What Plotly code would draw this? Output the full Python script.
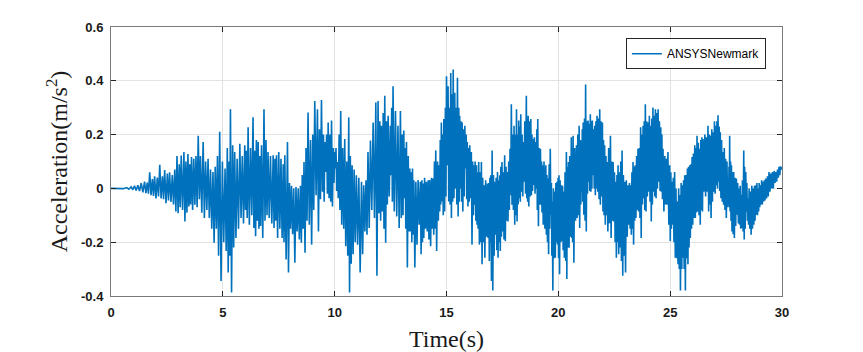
import plotly.graph_objects as go

# ---- data: event times, local peak values and the following trough values ----
t_events = [0.0, 0.4, 0.7, 0.9, 1.05, 1.2, 1.35, 1.5, 1.62, 1.73, 1.85, 1.95, 2.07, 2.18, 2.3, 2.4, 2.52, 2.62, 2.74, 2.85, 2.95, 3.05, 3.14, 3.26, 3.35, 3.44, 3.52, 3.6,
    3.7, 3.8, 3.9, 4.0, 4.12, 4.23, 4.34, 4.45, 4.56, 4.66, 4.76, 4.86, 4.98, 5.1, 5.2, 5.28, 5.34, 5.44, 5.53, 5.64, 5.76, 5.87, 5.98, 6.05, 6.13, 6.24, 6.35, 6.43, 6.5, 6.58, 6.65, 6.73, 6.84, 6.93, 7.02, 7.13, 7.25, 7.33, 7.4,
    7.5, 7.6, 7.7, 7.77, 7.89, 7.98, 8.07, 8.17, 8.27, 8.37, 8.47, 8.55, 8.63, 8.72, 8.81, 8.92, 9.02, 9.11, 9.23, 9.32, 9.41, 9.5, 9.56, 9.64, 9.71, 9.79, 9.86, 9.94, 10.0, 10.06, 10.12, 10.2, 10.27, 10.36, 10.45, 10.54, 10.63, 10.7, 10.78, 10.87, 10.97, 11.08, 11.2,
    11.3, 11.4, 11.49, 11.6, 11.72, 11.84, 11.94, 12.02, 12.09, 12.17, 12.24, 12.32, 12.39, 12.49, 12.55, 12.61, 12.72, 12.83, 12.94, 13.02, 13.09, 13.15, 13.21, 13.29, 13.36, 13.42, 13.48, 13.54, 13.63, 13.73, 13.83, 13.9, 13.95, 14.02, 14.1, 14.18, 14.25, 14.33, 14.4, 14.46, 14.52, 14.6, 14.67, 14.72, 14.77, 14.83, 14.88, 14.95, 15.0,
    15.07, 15.13, 15.19, 15.25, 15.3, 15.37, 15.43, 15.49, 15.55, 15.59, 15.65, 15.7, 15.76, 15.82, 15.88, 15.93, 15.99, 16.04, 16.11, 16.17, 16.23, 16.28, 16.34, 16.39, 16.44, 16.5, 16.56, 16.62, 16.68, 16.75, 16.83, 16.89, 16.94, 16.98, 17.04, 17.1, 17.16, 17.22, 17.28, 17.33, 17.38, 17.43, 17.48, 17.54, 17.6, 17.66, 17.72, 17.78, 17.84, 17.9, 17.96, 18.02, 18.08, 18.13, 18.18, 18.23, 18.28, 18.32, 18.38, 18.44, 18.5, 18.57, 18.61, 18.65, 18.71, 18.77, 18.82,
    18.87, 18.93, 18.99, 19.04, 19.08, 19.14, 19.2, 19.25, 19.29, 19.36, 19.44, 19.49, 19.54, 19.59, 19.64, 19.69, 19.73, 19.78, 19.84, 19.89, 19.94, 19.99, 20.03, 20.08, 20.14, 20.19, 20.24, 20.3, 20.36, 20.4, 20.45, 20.51, 20.58, 20.62, 20.66, 20.73, 20.81, 20.87, 20.93, 20.98, 21.03, 21.07, 21.11, 21.17, 21.22, 21.28, 21.33, 21.38, 21.43, 21.48, 21.52, 21.58, 21.63, 21.68, 21.73, 21.79, 21.85, 21.91, 21.97, 22.02, 22.07, 22.13, 22.18, 22.25, 22.33, 22.39, 22.45, 22.51, 22.57, 22.62,
    22.67, 22.73, 22.79, 22.85, 22.91, 22.97, 23.04, 23.12, 23.18, 23.24, 23.29, 23.34, 23.39, 23.44, 23.5, 23.56, 23.62, 23.68, 23.73, 23.79, 23.84, 23.89, 23.95, 24.01, 24.07, 24.13, 24.18, 24.23, 24.29, 24.34, 24.4, 24.46, 24.52, 24.58, 24.63, 24.68, 24.76, 24.83, 24.9, 24.98, 25.03, 25.08, 25.14, 25.2, 25.26, 25.32, 25.38, 25.43, 25.49, 25.55, 25.6, 25.65, 25.71, 25.77, 25.82, 25.87, 25.93, 25.98, 26.04, 26.1, 26.15, 26.2, 26.26, 26.32, 26.37, 26.42,
    26.47, 26.55, 26.62, 26.69, 26.75, 26.8, 26.86, 26.92, 26.98, 27.04, 27.09, 27.14, 27.19, 27.24, 27.3, 27.36, 27.42, 27.48, 27.54, 27.59, 27.63, 27.66, 27.7, 27.74, 27.79, 27.84, 27.9, 27.96, 28.02, 28.08, 28.13, 28.18, 28.23, 28.29, 28.33, 28.38, 28.43, 28.48, 28.53, 28.59, 28.65, 28.71, 28.77, 28.82, 28.88, 28.93, 28.98, 29.03, 29.09, 29.15, 29.21, 29.27, 29.35, 29.42, 29.5, 29.57, 29.65, 29.72, 29.8, 29.87, 29.93, 30.0]

peak_vals = [0.0, 0.001, 0.003, 0.006, 0.010, 0.012, 0.020, 0.025, 0.022, 0.060, 0.035, 0.045, 0.040, 0.088, 0.045, 0.068, 0.055, 0.060, 0.050, 0.070, 0.120, 0.090, 0.122, 0.135, 0.100, 0.128, 0.090, 0.117,
    0.110, 0.120, 0.196, 0.120, 0.172, 0.100, 0.110, 0.070, 0.061, 0.080, 0.120, 0.211, 0.100, 0.074, 0.150, 0.100, 0.294, 0.160, 0.135, 0.110, 0.166, 0.120, 0.160, 0.140, 0.227, 0.150, 0.264, 0.140, 0.180, 0.172, 0.120, 0.160, 0.294, 0.180, 0.135, 0.120, 0.123, 0.110, 0.123,
    0.135, 0.110, 0.090, 0.123, 0.172, 0.020, 0.010, 0.000, 0.005, 0.000, 0.010, 0.050, 0.098, 0.150, 0.282, 0.180, 0.200, 0.325, 0.294, 0.220, 0.329, 0.200, 0.172, 0.200, 0.245, 0.200, 0.252, 0.150, 0.135, 0.150, 0.098, 0.200, 0.288, 0.150, 0.184, 0.100, 0.264, 0.120, 0.086, 0.070, 0.049, 0.040, 0.025,
    0.012, 0.030, 0.135, 0.178, 0.245, 0.319, 0.325, 0.250, 0.233, 0.280, 0.344, 0.250, 0.270, 0.233, 0.300, 0.380, 0.288, 0.233, 0.288, 0.200, 0.215, 0.150, 0.172, 0.120, 0.074, 0.060, 0.074, 0.030, 0.025, 0.031, 0.025, 0.030, 0.018, 0.040, 0.025, 0.030, 0.031, 0.040, 0.037, 0.100, 0.141, 0.100, 0.086, 0.180, 0.245, 0.200, 0.258, 0.300, 0.417,
    0.380, 0.300, 0.429, 0.350, 0.442, 0.356, 0.300, 0.411, 0.300, 0.270, 0.250, 0.245, 0.220, 0.233, 0.200, 0.172, 0.150, 0.160, 0.135, 0.100, 0.086, 0.100, 0.086, 0.060, 0.098, 0.060, 0.098, 0.040, 0.012, 0.030, 0.018, 0.020, 0.040, 0.049, 0.141, 0.050, 0.025, 0.040, 0.061, 0.030, 0.049, 0.080, 0.098, 0.060, 0.123, 0.080, 0.061, 0.100, 0.147, 0.313, 0.200, 0.233, 0.200, 0.294, 0.200, 0.252, 0.230, 0.276, 0.200, 0.172, 0.250, 0.344, 0.260, 0.270, 0.250, 0.258, 0.200,
    0.184, 0.190, 0.172, 0.220, 0.258, 0.150, 0.147, 0.100, 0.086, 0.100, 0.086, 0.050, 0.037, 0.090, 0.147, 0.020, -0.049, 0.000, -0.012, 0.020, 0.025, 0.040, 0.049, 0.030, 0.012, 0.010, -0.012, 0.060, 0.135, 0.080, 0.098, 0.120, 0.190, 0.150, 0.196, 0.150, 0.160, 0.200, 0.233, 0.180, 0.178, 0.220, 0.245, 0.260, 0.386, 0.250, 0.252, 0.240, 0.276, 0.250, 0.252, 0.220, 0.233, 0.250, 0.270, 0.260, 0.294, 0.250, 0.245, 0.180, 0.160, 0.120, 0.098, 0.150, 0.196, 0.100, 0.098, 0.060, 0.025, 0.050,
    0.086, 0.060, 0.100, 0.141, 0.050, 0.025, 0.030, 0.012, 0.020, 0.012, 0.060, 0.098, 0.080, 0.086, 0.120, 0.147, 0.150, 0.227, 0.200, 0.233, 0.250, 0.313, 0.250, 0.245, 0.270, 0.233, 0.260, 0.301, 0.270, 0.294, 0.280, 0.294, 0.250, 0.227, 0.200, 0.147, 0.120, 0.110, 0.135, 0.086, 0.060, 0.025, 0.040, 0.061, 0.000, -0.049, 0.000, -0.025, 0.020, 0.012, 0.030, 0.049, 0.050, 0.074, 0.080, 0.086, 0.090, 0.117, 0.130, 0.160, 0.150, 0.196, 0.170, 0.147, 0.180, 0.190,
    0.184, 0.200, 0.190, 0.233, 0.200, 0.196, 0.220, 0.209, 0.250, 0.233, 0.250, 0.272, 0.230, 0.209, 0.180, 0.135, 0.150, 0.110, 0.100, 0.037, 0.080, 0.196, 0.100, 0.086, 0.060, 0.061, 0.040, 0.037, 0.020, 0.000, 0.010, -0.025, 0.030, 0.141, 0.080, 0.061, 0.020, -0.037, 0.000, -0.012, 0.010, 0.000, 0.010, 0.012, 0.020, 0.000, 0.020, 0.012, 0.030, 0.025, 0.030, 0.037, 0.045, 0.061, 0.055, 0.061, 0.065, 0.061, 0.070, 0.080, 0.082, 0.080]

trough_vals = [0.0, -0.001, -0.003, -0.005, -0.008, -0.010, -0.015, -0.018, -0.020, -0.025, -0.028, -0.037, -0.030, -0.037, -0.040, -0.055, -0.045, -0.050, -0.060, -0.086, -0.092, -0.070, -0.080, -0.123, -0.090, -0.067, -0.060, -0.080,
    -0.061, -0.070, -0.040, -0.090, -0.110, -0.080, -0.110, -0.150, -0.202, -0.150, -0.250, -0.344, -0.200, -0.233, -0.313, -0.250, -0.387, -0.220, -0.184, -0.150, -0.110, -0.130, -0.080, -0.110, -0.135, -0.100, -0.147, -0.178, -0.120, -0.150, -0.140, -0.184, -0.120, -0.100, -0.110, -0.130, -0.147, -0.120, -0.184,
    -0.150, -0.184, -0.200, -0.264, -0.313, -0.150, -0.170, -0.276, -0.160, -0.190, -0.202, -0.150, -0.239, -0.120, -0.135, -0.209, -0.080, -0.025, -0.160, -0.040, -0.012, -0.050, 0.061, -0.020, -0.037, -0.050, -0.067, 0.020, 0.074, -0.010, -0.037, -0.080, -0.135, -0.150, -0.215, -0.250, -0.387, -0.280, -0.245, -0.200, -0.209, -0.313, -0.245,
    -0.160, -0.172, -0.147, -0.080, -0.110, -0.325, -0.092, -0.120, -0.086, -0.150, -0.202, -0.060, -0.030, 0.049, -0.050, -0.086, -0.104, -0.147, -0.110, -0.100, -0.037, -0.150, -0.294, -0.160, -0.160, -0.200, -0.172, -0.294, -0.209, -0.135, -0.245, -0.200, -0.184, -0.150, -0.160, -0.190, -0.215, -0.150, -0.172, -0.150, -0.233, -0.120, -0.086, -0.060, -0.049, -0.100, -0.086, -0.030, 0.086,
    -0.049, -0.060, -0.110, -0.050, -0.037, 0.000, -0.060, -0.104, -0.050, 0.000, -0.050, -0.086, -0.030, 0.074, -0.040, -0.067, -0.050, -0.037, -0.209, -0.100, -0.061, -0.120, -0.135, -0.150, -0.209, -0.200, -0.282, -0.200, -0.258, -0.180, -0.184, -0.270, -0.200, -0.344, -0.380, -0.250, -0.172, -0.230, -0.258, -0.200, -0.233, -0.180, -0.160, -0.190, -0.196, -0.120, -0.123, -0.080, -0.025, -0.061, -0.080, -0.135, -0.100, -0.123, -0.060, -0.037, -0.050, -0.012, -0.030, 0.025, -0.020, -0.037, -0.050, -0.067, -0.030, -0.025, -0.010,
    0.012, -0.020, 0.000, -0.080, -0.141, -0.060, -0.061, -0.090, -0.135, -0.150, -0.172, -0.200, -0.245, -0.150, -0.098, -0.250, -0.380, -0.260, -0.258, -0.200, -0.209, -0.260, -0.319, -0.200, -0.196, -0.230, -0.258, -0.270, -0.337, -0.220, -0.221, -0.180, -0.184, -0.200, -0.276, -0.120, -0.110, -0.100, -0.147, -0.060, -0.012, -0.050, -0.098, -0.120, -0.160, -0.020, 0.025, -0.010, -0.012, 0.000, 0.049, 0.000, -0.025, 0.000, -0.012, -0.040, -0.061, -0.030, -0.086, -0.100, -0.135, -0.100, -0.160, -0.130, -0.184, -0.120, -0.123, -0.200, -0.258, -0.200,
    -0.245, -0.220, -0.270, -0.325, -0.250, -0.313, -0.180, -0.135, -0.150, -0.172, -0.150, -0.209, -0.120, -0.110, -0.080, -0.086, -0.110, -0.184, -0.060, -0.037, -0.080, -0.086, -0.030, -0.012, -0.050, -0.123, -0.060, -0.012, -0.030, -0.037, 0.000, 0.025, -0.010, -0.012, -0.040, -0.086, -0.060, -0.061, -0.135, -0.196, -0.150, -0.135, -0.200, -0.258, -0.260, -0.282, -0.300, -0.380, -0.300, -0.258, -0.300, -0.380, -0.260, -0.282, -0.220, -0.184, -0.150, -0.135, -0.110, -0.110, -0.090, -0.086, -0.100, -0.135, -0.080, -0.086,
    -0.012, -0.030, -0.012, -0.086, -0.060, -0.110, -0.050, -0.012, -0.020, 0.012, 0.000, 0.025, -0.010, -0.037, -0.050, -0.061, -0.080, -0.110, -0.070, -0.061, -0.070, -0.086, -0.120, -0.160, -0.170, -0.184, -0.140, -0.098, -0.130, -0.135, -0.150, -0.147, -0.160, -0.190, -0.150, -0.086, -0.120, -0.135, -0.150, -0.172, -0.150, -0.135, -0.120, -0.098, -0.100, -0.086, -0.070, -0.061, -0.060, -0.049, -0.045, -0.037, -0.030, -0.012, 0.000, 0.000, 0.020, 0.025, 0.040, 0.049, 0.070, 0.080]

series_name = "ANSYSNewmark"
x_ticks = [0, 5, 10, 15, 20, 25, 30]
y_ticks = [-0.4, -0.2, 0, 0.2, 0.4, 0.6]
y_tick_labels = ["-0.4", "-0.2", "0", "0.2", "0.4", "0.6"]

# interleave each peak with the trough that follows it
t_series, a_series = [], []
n = min(len(t_events), len(peak_vals), len(trough_vals))
for i in range(n):
    t_series.append(t_events[i])
    a_series.append(peak_vals[i])
    if i < n - 1:
        t_series.append((t_events[i] + t_events[i + 1]) / 2)
        a_series.append(trough_vals[i])

fig = go.Figure()
fig.add_trace(go.Scatter(x=t_series, y=a_series, mode="lines", name=series_name,
                         line=dict(color="#0072BD", width=1.6), showlegend=True))

axis_common = dict(showline=True, linecolor="#7a7a7a", linewidth=1, mirror="allticks",
                   ticks="inside", ticklen=5, tickcolor="#262626", tickwidth=1,
                   showgrid=True, gridcolor="#e3e3e3", gridwidth=1, zeroline=False,
                   ticklabelstandoff=4, automargin=False,
                   tickfont=dict(family="Liberation Sans", size=13, color="#1a1a1a", weight="bold"))

fig.update_xaxes(range=[0, 30], tickvals=x_ticks, ticktext=[str(v) for v in x_ticks],
                 title=dict(text="Time(s)", font=dict(family="Liberation Serif", size=24, color="#1a1a1a"), standoff=14),
                 **axis_common)
fig.update_yaxes(range=[-0.4, 0.6], tickvals=y_ticks, ticktext=y_tick_labels,
                 title=dict(text="Acceleration(m/s<sup>2</sup>)", font=dict(family="Liberation Serif", size=24, color="#1a1a1a"), standoff=6),
                 **axis_common)

fig.update_layout(
    width=863, height=352,
    margin=dict(l=111, r=81, t=27, b=56),
    paper_bgcolor="white", plot_bgcolor="white",
    legend=dict(x=0.976, y=0.958, xanchor="right", yanchor="top",
                bgcolor="white", bordercolor="#262626", borderwidth=1,
                font=dict(family="Liberation Sans", size=12, color="#000000"),
                itemwidth=30),
)

fig.write_html("out.html")
